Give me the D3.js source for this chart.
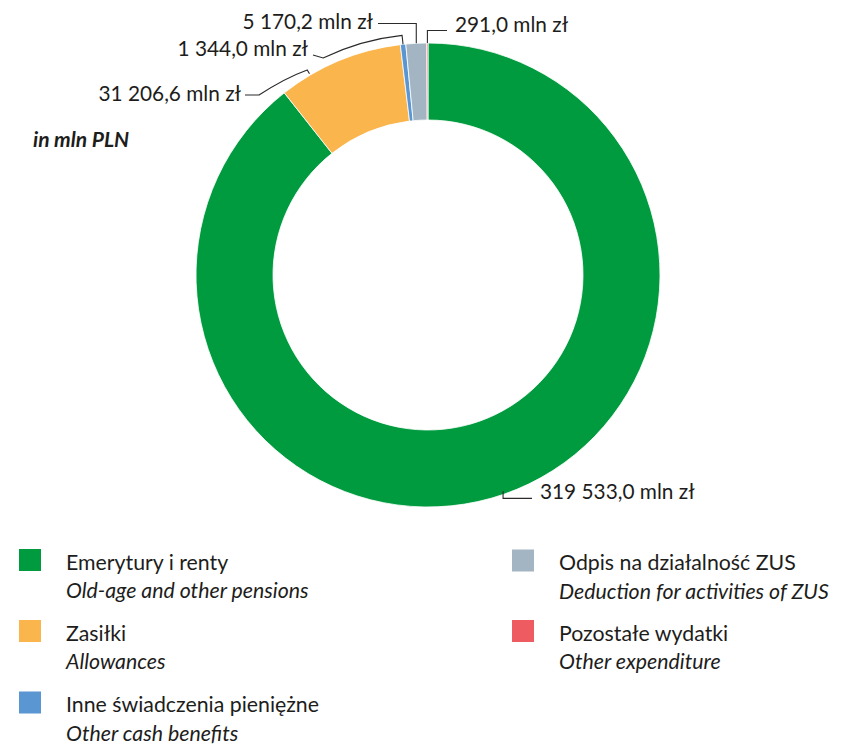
<!DOCTYPE html>
<html><head><meta charset="utf-8">
<script src="https://cdn.jsdelivr.net/npm/d3@7"></script>
<style>
html,body{margin:0;padding:0;background:#fff;}
svg{display:block;font-family:Lato,"Noto Sans",sans-serif;}
</style></head>
<body>
<svg id="chart" width="849" height="744"></svg>
<script>
// ---- data ----
const categoriesPL = ["Emerytury i renty","Zasiłki","Inne świadczenia pieniężne","Odpis na działalność ZUS","Pozostałe wydatki"];
const categoriesEN = ["Old-age and other pensions","Allowances","Other cash benefits","Deduction for activities of ZUS","Other expenditure"];
const values = [319533.0, 31206.6, 1344.0, 5170.2, 291.0];
const valueLabels = ["319 533,0 mln zł","31 206,6 mln zł","1 344,0 mln zł","5 170,2 mln zł","291,0 mln zł"];
const colors = ["#009b3e","#fab54d","#5a96d2","#a3b4c3","#ee5b60"];
const unitLabel = "in mln PLN";

// ---- layout ----
const svg = d3.select("#chart");
const cx = 428, cy = 275, rOuter = 232, rInner = 155;
const textColor = "#1d1d1b";
const lineColor = "#2b2b2b";
const labelSize = 20.8, legendSize = 21.3;

const pie = d3.pie().sort(null).value(d => d).startAngle(0).endAngle(2*Math.PI);
const arcs = pie(values);
const arc = d3.arc().innerRadius(rInner).outerRadius(rOuter);

const g = svg.append("g").attr("transform", `translate(${cx},${cy})`);
g.selectAll("path.slice").data(arcs).join("path")
  .attr("class","slice")
  .attr("d", arc)
  .attr("fill", (d,i) => colors[i])
  .attr("stroke", "#fff")
  .attr("stroke-width", 0.8);

const P = (a, r) => { const p = d3.pointRadial(a, r); return [cx + p[0], cy + p[1]]; };
const mid = d => (d.startAngle + d.endAngle) / 2;
const deg = x => x * Math.PI / 180;

const leaders = svg.append("g").attr("fill","none").attr("stroke", lineColor).attr("stroke-width", 1.1);
const labels = svg.append("g").attr("fill", textColor).attr("font-size", labelSize);

// 0: Emerytury
{
  const a = mid(arcs[0]);
  const p0 = P(a, rOuter - 3);
  const p1 = [p0[0], p0[1] + 7];
  const p2 = [532, p1[1]];
  leaders.append("path").attr("d", d3.line()([p0, p1, p2]));
  labels.append("text").attr("x", 540).attr("y", 499).text(valueLabels[0]);
}
// 1: Zasiłki
{
  const a = deg(329.5);
  const p0 = P(a, rOuter + 1.5);
  const p1 = P(a, rOuter + 6);
  const p3 = [259, 95], p4 = [245, 95];
  const path = d3.path();
  path.moveTo(...p0); path.lineTo(...p1);
  path.quadraticCurveTo(285, 78, ...p3);
  path.lineTo(...p4);
  leaders.append("path").attr("d", path.toString());
  labels.append("text").attr("x", 241).attr("y", 101).attr("text-anchor","end").text(valueLabels[1]);
}
// 2: Inne
{
  const a = mid(arcs[2]);
  const r2 = 241;
  const a2 = deg(334.2);
  const p0 = P(a, rOuter);
  const p1 = P(a, r2);
  const path = d3.path();
  path.moveTo(...p0); path.lineTo(...p1);
  path.arc(cx, cy, r2, a - Math.PI/2, a2 - Math.PI/2, true);
  path.lineTo(313, 55);
  leaders.append("path").attr("d", path.toString());
  labels.append("text").attr("x", 308).attr("y", 56).attr("text-anchor","end").text(valueLabels[2]);
}
// 3: Odpis
{
  const a = mid(arcs[3]);
  const p0 = P(a, rOuter);
  const p1 = [p0[0], 23.5];
  const p2 = [378, 23.5];
  leaders.append("path").attr("d", d3.line()([p0, p1, p2]));
  labels.append("text").attr("x", 373).attr("y", 28.5).attr("text-anchor","end").text(valueLabels[3]);
}
// 4: Pozostałe
{
  const a = mid(arcs[4]);
  const p0 = P(a, rOuter);
  const p1 = [p0[0], 30.5];
  const p2 = [447, 30.5];
  leaders.append("path").attr("d", d3.line()([p0, p1, p2]));
  labels.append("text").attr("x", 455).attr("y", 32).text(valueLabels[4]);
}

// unit label
svg.append("text").attr("x", 33).attr("y", 146.5)
  .attr("font-size", 21).attr("font-weight", 700).attr("font-style","italic")
  .attr("fill", textColor).text(unitLabel);

// ---- legend ----
const legendPos = [
  {x:19, y:549}, {x:19, y:620}, {x:19, y:691.5},
  {x:512, y:549.5}, {x:512, y:620}
];
const leg = svg.append("g");
categoriesPL.forEach((c, i) => {
  const p = legendPos[i];
  const item = leg.append("g").attr("transform", `translate(${p.x},${p.y})`);
  item.append("rect").attr("width", 22).attr("height", 22).attr("fill", colors[i]);
  item.append("text").attr("x", 47).attr("y", 20.5).attr("font-size", legendSize).attr("fill", textColor).text(c);
  item.append("text").attr("x", 47).attr("y", 49).attr("font-size", legendSize).attr("font-style","italic").attr("fill", textColor).text(categoriesEN[i]);
});
</script>
</body></html>
